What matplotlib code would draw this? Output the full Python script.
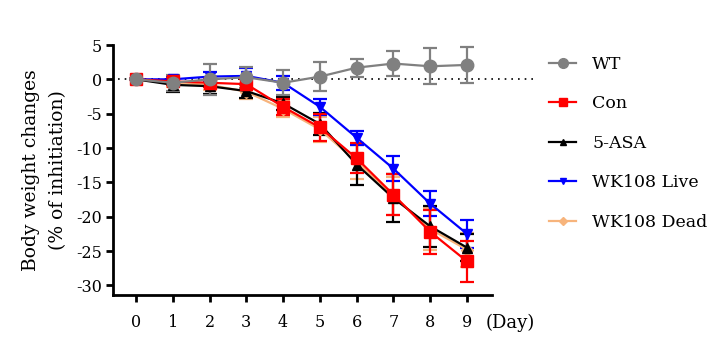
import numpy as np
import matplotlib
matplotlib.use("Agg")
import matplotlib.pyplot as plt

days = [0, 1, 2, 3, 4, 5, 6, 7, 8, 9]

wt = [0, -0.5, 0.0, 0.3, -0.5, 0.4, 1.7, 2.3, 1.9, 2.1]
wt_err = [0, 1.2, 2.3, 1.5, 1.8, 2.1, 1.3, 1.8, 2.6, 2.6]

con = [0, -0.3, -0.5, -0.7, -4.0, -7.0, -11.5, -16.8, -22.2, -26.5]
con_err = [0, 0.5, 0.6, 0.8, 1.2, 2.0, 2.2, 3.0, 3.2, 3.0]

asa = [0, -0.8, -1.0, -1.7, -3.5, -6.5, -12.4, -17.3, -21.4, -24.5]
asa_err = [0, 1.0, 1.2, 1.0, 1.0, 1.6, 3.0, 3.5, 3.0, 2.0]

live = [0, 0.0, 0.4, 0.5, -0.5, -4.0, -8.5, -13.0, -18.1, -22.5]
live_err = [0, 0.5, 0.6, 1.2, 1.0, 1.2, 1.0, 1.8, 1.8, 2.0]

dead = [0, -0.5, -0.8, -1.8, -4.3, -7.3, -12.0, -17.0, -21.8, -24.8]
dead_err = [0, 0.6, 0.8, 1.0, 1.2, 1.8, 2.5, 2.8, 3.0, 2.5]

plt.rcParams['font.family'] = ['DejaVu Serif']
plt.rcParams['axes.unicode_minus'] = False

fig = plt.figure(figsize=(7.26, 3.37), dpi=100)
ax = fig.add_axes([113/726, 42/337, 379/726, 250/337])

# dotted zero line running past the axis
ax.plot([-0.5, 10.9], [0, 0], ls=(0, (1, 3)), color='black', lw=1.2, clip_on=False, zorder=1)

series = [
    ('WK108 Dead', dead, dead_err, '#F7B47C', 'D', 6),
    ('5-ASA', asa, asa_err, 'black', '^', 7),
    ('WK108 Live', live, live_err, '#0000FF', 'v', 7),
    ('Con', con, con_err, '#FF0000', 's', 8),
    ('WT', wt, wt_err, '#808080', 'o', 9),
]
for name, vals, errs, col, mk, ms in series:
    ax.errorbar(days, vals, yerr=errs, color=col, marker=mk, ms=ms, lw=1.6,
                elinewidth=1.6, capsize=5, capthick=1.6, zorder=3)

ax.set_xlim(-0.625, 9.68)
ax.set_ylim(-31.4, 5)
ax.set_xticks(days)
ax.set_yticks(np.arange(-30, 6, 5))
ax.spines['top'].set_visible(False)
ax.spines['right'].set_visible(False)
ax.spines['left'].set_linewidth(2)
ax.spines['bottom'].set_linewidth(2)
ax.tick_params(axis='both', width=2, length=5, labelsize=11.5, pad=3)
ax.tick_params(axis='x', pad=9)

ax.set_ylabel('Body weight changes\n(% of inhitiation)', fontsize=13.5, labelpad=6,
              linespacing=1.7)
ax.text(9.5, -35.4, '(Day)', fontsize=13, va='center', ha='left')

order = ['WT', 'Con', '5-ASA', 'WK108 Live', 'WK108 Dead']
lines = []
for name in order:
    for n, vals, errs, col, mk, ms in series:
        if n == name:
            lines.append(plt.Line2D([], [], color=col, marker=mk, ms=ms - 2, lw=1.6))
leg = fig.legend(lines, order, loc='upper left', bbox_to_anchor=(533/726, 1 - 40/337),
                 frameon=False, labelspacing=1.3, handlelength=1.6, handletextpad=0.9,
                 prop={'size': 12.5})

fig.savefig('out.png', dpi=100)
